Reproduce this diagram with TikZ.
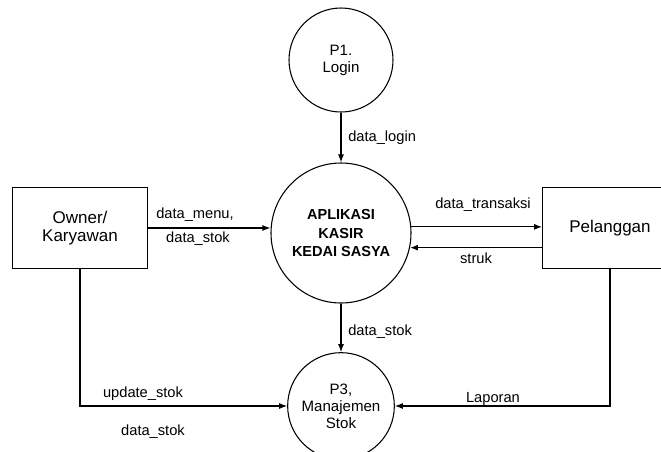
\documentclass[tikz,border=0pt]{standalone}
\usepackage{fontspec}
\setmainfont{Liberation Sans}
\usetikzlibrary{arrows.meta}

\begin{document}
\begin{tikzpicture}[x=0.75pt,y=-0.75pt,
	proc/.style={circle, draw, line width=0.8pt, minimum size=#1, inner sep=0pt, align=center, font=\fontsize{11.3}{12.75}\selectfont},
	ent/.style={draw, line width=0.8pt, minimum width=101pt, minimum height=61pt, align=center, font=\fontsize{12.75}{13.5}\selectfont},
	flow/.style={-{Latex[length=6pt,width=4.5pt]}, line width=0.9pt},
	lbl/.style={inner sep=0pt, font=\fontsize{11}{13}\selectfont}]
	\useasboundingbox (0,0) rectangle (661,451);
	\clip (0,0) rectangle (661,451);
	\node[proc=78pt] (p1) at (341,60) {P1.\\Login};
	\node[proc=105pt, font=\bfseries\fontsize{10.9}{14}\selectfont] (app) at (341,233) {APLIKASI\\KASIR\\KEDAI SASYA};
	\node[proc=80pt] (p3) at (341,406) {P3,\\Manajemen\\Stok};
	\node[ent] (owner) at (80,228) {Owner/\\Karyawan};
	\node[ent] (pel) at (610,228) {Pelanggan};
	\draw[flow] (p1) -- (app);
	\draw[flow] (owner.east) -- (owner.east -| app.west);
	\draw[flow] (app.5) -- (app.5 -| pel.west);
	\draw[flow] (app.-12 -| pel.west) -- (app.-12);
	\draw[flow] (app) -- (p3);
	\draw[flow] (owner.south) |- (p3.west);
	\draw[flow] (pel.south) |- (p3.east);
	\node[lbl, anchor=west] (lblLogin) at (348,138) {data\_login};
	\node[lbl] (lblMenu) at (195,215) {data\_menu,};
	\node[lbl] (lblStokA) at (198,239) {data\_stok};
	\node[lbl] (lblTrans) at (483,205) {data\_transaksi};
	\node[lbl] (lblStruk) at (476,258) {struk};
	\node[lbl, anchor=west] (lblStokB) at (348,332) {data\_stok};
	\node[lbl] (lblUpdate) at (143,394) {update\_stok};
	\node[lbl] (lblStokC) at (153,432) {data\_stok};
	\node[lbl] (lblLaporan) at (493,399) {Laporan};
\end{tikzpicture}
\end{document}
